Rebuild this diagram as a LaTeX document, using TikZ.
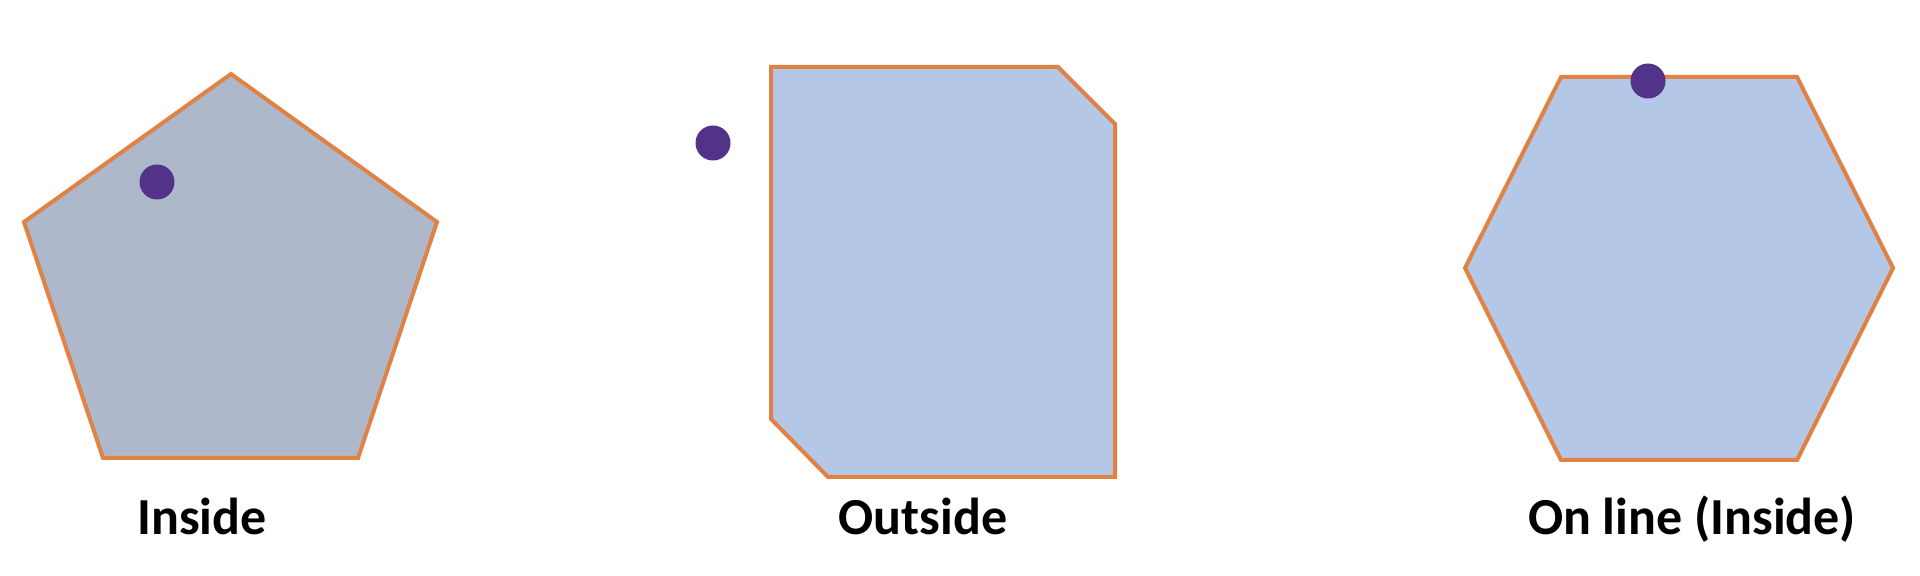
\documentclass[tikz,border=0pt]{standalone}
\usepackage{fontspec}
\setmainfont{Carlito}
\usepackage{tikz}
\usetikzlibrary{positioning}

\definecolor{edgeorange}{HTML}{DF8244}
\definecolor{grayfill}{HTML}{ADB9CA}
\definecolor{bluefill}{HTML}{B4C7E7}
\definecolor{pinpurple}{HTML}{533389}

\begin{document}
\begin{tikzpicture}[x=0.5pt, y=-0.5pt]
    \tikzset{
        poly/.style={draw=edgeorange, line width=2pt, line join=miter},
        pin/.style={circle, fill=pinpurple, inner sep=0pt, minimum size=17.5pt},
        caption/.style={anchor=base, font=\fontsize{26}{30}\selectfont\bfseries},
    }
    \useasboundingbox (0,0) rectangle (1920,576);

    % pentagon, point inside
    \draw[poly, fill=grayfill] (231,74) -- (437,222) -- (358,458)
        -- (103,458) -- (24,222) -- cycle;
    \node[pin] (pinA) at (157,182) {};
    \node[caption] (capA) at (202,534) {Inside};

    % cut square, point outside
    \draw[poly, fill=bluefill] (771,67) -- (1058,67) -- (1115,124)
        -- (1115,477) -- (828,477) -- (771,419) -- cycle;
    \node[pin] (pinB) at (713,143) {};
    \node[caption] (capB) at (923,534) {Outside};

    % hexagon, point on the edge
    \draw[poly, fill=bluefill] (1561,77) -- (1797,77) -- (1893,268)
        -- (1797,460) -- (1561,460) -- (1465,268) -- cycle;
    \node[pin] (pinC) at (1648,81) {};
    \node[caption] (capC) at (1692,534) {On line (Inside)};
\end{tikzpicture}
\end{document}
